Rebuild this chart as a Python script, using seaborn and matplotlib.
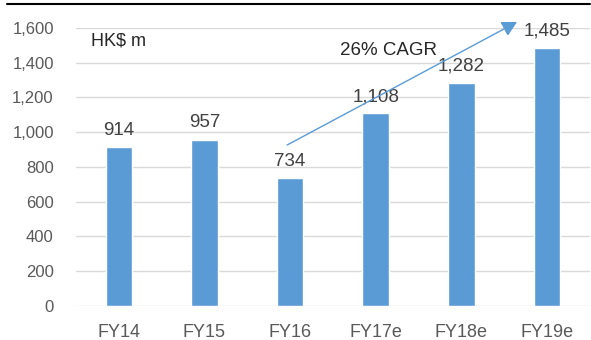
import matplotlib
matplotlib.use("Agg")
import matplotlib.pyplot as plt
from matplotlib.lines import Line2D
import seaborn as sns
import pandas as pd

years = ["FY14", "FY15", "FY16", "FY17e", "FY18e", "FY19e"]
revenue = [914, 957, 734, 1108, 1282, 1485]
yticks = [0, 200, 400, 600, 800, 1000, 1200, 1400, 1600]

sns.set_theme(style="white")
plt.rcParams["font.family"] = ["Liberation Sans", "DejaVu Sans"]

df = pd.DataFrame({"year": years, "revenue": revenue})

fig = plt.figure(figsize=(5.91, 3.40), dpi=100)
ax = fig.add_axes([0.1286, 0.1009, 0.8694, 0.8165])

bar_color = "#5B9BD5"
sns.barplot(data=df, x="year", y="revenue", color=bar_color, saturation=1,
            width=0.31, ax=ax, zorder=3)

ax.set_ylim(0, 1600)
ax.set_xlim(-0.5, len(years) - 0.5)
ax.set_yticks(yticks)
ax.set_yticklabels([f"{v:,}" for v in yticks])
ax.yaxis.grid(True, color="#D9D9D9", linewidth=1.0, zorder=0)
ax.set_axisbelow(True)
for s in ax.spines.values():
    s.set_visible(False)
ax.set_xlabel("")
ax.set_ylabel("")
ax.tick_params(axis="y", length=0, pad=16, labelsize=12, labelcolor="#595959")
ax.tick_params(axis="x", length=0, pad=13, labelsize=13, labelcolor="#595959")

# value labels above each bar
for i, v in enumerate(revenue):
    ax.annotate(f"{v:,}", xy=(i, v), xytext=(0, 6), textcoords="offset points",
                ha="center", va="bottom", fontsize=13.5, color="#404040",
                annotation_clip=False, zorder=5)

# unit label
ax.text(0.03, 0.955, "HK$ m", transform=ax.transAxes, fontsize=13,
        color="#262626", ha="left", va="center")

# CAGR arrow from FY16 to FY19e
ax.annotate("", xy=(4.65, 1635), xytext=(1.965, 926),
            arrowprops=dict(arrowstyle="-|>,head_length=0.75,head_width=0.4",
                            color=bar_color, lw=1.0, shrinkA=0, shrinkB=0),
            annotation_clip=False, zorder=6)
ax.text(3.15, 1470, "26% CAGR", fontsize=13.5, color="#262626",
        ha="center", va="center", zorder=6)

# rule along the top edge
fig.add_artist(Line2D([0.012, 0.999], [0.988, 0.988], transform=fig.transFigure,
                      color="black", linewidth=1.5))

fig.savefig("out.png", dpi=100)
